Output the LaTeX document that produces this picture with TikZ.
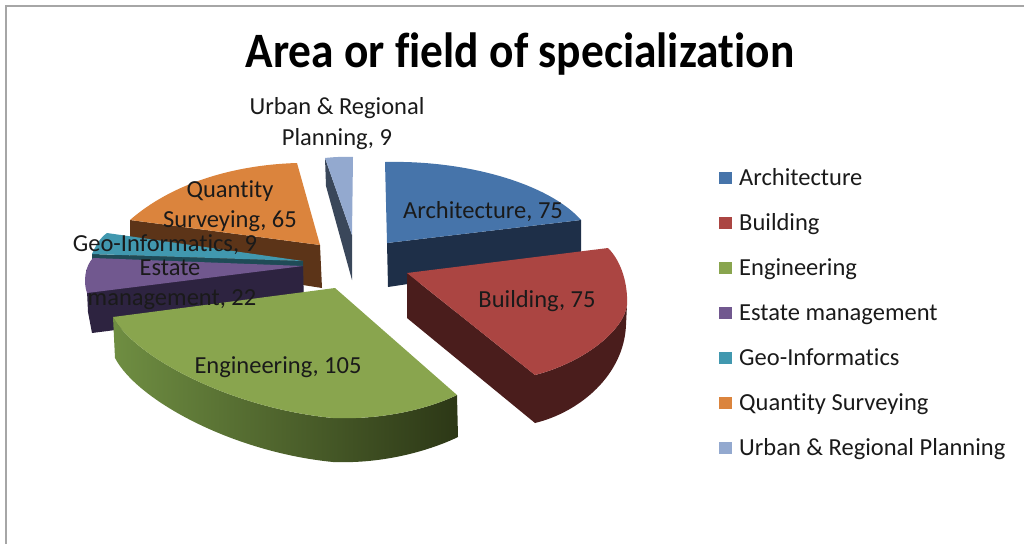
\documentclass[tikz,border=0pt]{standalone}
\usepackage{fontspec}
\setmainfont[Ligatures=NoCommon]{Carlito}
\usepackage{graphicx}
\definecolor{bltp}{HTML}{4674AA}\definecolor{blsd}{HTML}{1E2F48}
\definecolor{rdtp}{HTML}{AB4542}\definecolor{rdsd}{HTML}{4A1D1C}
\definecolor{grtp}{HTML}{89A54E}\definecolor{grsdL}{HTML}{6F8E42}\definecolor{grsdR}{HTML}{2C3716}
\definecolor{putp}{HTML}{71588F}\definecolor{pusd}{HTML}{2D2340}
\definecolor{tltp}{HTML}{4198AF}\definecolor{tlsd}{HTML}{1F4B57}
\definecolor{ortp}{HTML}{DB843D}\definecolor{orsd}{HTML}{5C3418}
\definecolor{urtp}{HTML}{93A9CF}\definecolor{ursd}{HTML}{3A475A}
\definecolor{framec}{HTML}{A6A6A6}
\definecolor{txt}{HTML}{1A1A1A}
\begin{document}
\begin{tikzpicture}[x=1pt,y=-1pt,
  lbl/.style={font=\fontsize{24.5}{29}\selectfont, anchor=base, inner sep=0pt, text=txt},
  leg/.style={font=\fontsize{24.5}{29}\selectfont, anchor=base west, inner sep=0pt, text=txt},
  sq/.style={minimum size=12.5pt, inner sep=0pt, anchor=center, draw=none},
  ttl/.style={font=\bfseries\fontsize{45}{54}\selectfont, anchor=base, inner sep=0pt, text=black}]
\useasboundingbox (0,0) rectangle (1024,544);
% frame
\coordinate (fbl) at (6,544);\coordinate (ftl) at (6,6);\coordinate (ftr) at (1024,6);
\draw[framec, line width=2pt] (fbl) -- (ftl) -- (ftr);
% title
\node[ttl] (title) at (520,67) {\scalebox{1.01}[1.1]{Area or field of specialization}};
% Urban & Regional Planning
\fill[ursd] (325,158) -- (352,235) -- (352,280) -- (326,186) -- cycle;
\fill[urtp] (352,235) -- (325,158) .. controls (334,157) and (344,156.5) .. (353,157) -- cycle;
% Architecture
\fill[blsd] (387,243) -- (581,220) -- (581,258) -- (388,287) -- cycle;
\fill[bltp] (387,243) -- (385,162) .. controls (470,160) and (550,185) .. (581,220) -- cycle;
% Quantity Surveying
\fill[orsd] (130,220) -- (320,245) -- (322,288) -- (130,258) -- cycle;
\fill[ortp] (320,245) -- (130,220) .. controls (170,185) and (230,165) .. (297,163) -- cycle;
% Geo-Informatics
\fill[tlsd] (92,254) -- (303,261) -- (303,300) -- (92,292) -- cycle;
\fill[tltp] (303,261) -- (92,254) .. controls (96,245) and (100,238) .. (107,233) -- cycle;
% Estate management
\fill[pusd] (86,270) -- (303,266) -- (304,306) -- (92,333) -- (88,312) -- cycle;
\fill[putp] (303,266) -- (87,293) .. controls (83,282) and (85,266) .. (93,258) -- cycle;
% Building
\fill[rdsd] (407,273) -- (535,375) -- (535,423) -- (407,318) -- cycle;
\fill[rdsd] (627,305) .. controls (624,330) and (585,362) .. (535,375) -- (535,423) .. controls (580,412) and (624,375) .. (626,325) -- cycle;
\fill[rdtp] (407,273) -- (608,248) .. controls (622,262) and (628,285) .. (627,305) .. controls (624,330) and (585,362) .. (535,375) -- cycle;
% Engineering
\shade[left color=grsdL, right color=grsdR] (113,317) .. controls (135,357) and (230,408) .. (333,418) .. controls (385,420) and (430,408) .. (457,395) -- (458,437) .. controls (431,450) and (385,464) .. (333,462) .. controls (232,452) and (137,400) .. (115,358) -- cycle;
\fill[grtp] (335,288) -- (457,395) .. controls (430,408) and (385,420) .. (333,418) .. controls (230,408) and (135,357) .. (113,317) -- cycle;
% data labels
\node[lbl] (lurb1) at (337,114) {Urban \& Regional};
\node[lbl] (lurb2) at (337,145) {Planning, 9};
\node[lbl] (larc) at (483,218) {Architecture, 75};
\node[lbl] (lqs1) at (230,197) {Quantity};
\node[lbl] (lqs2) at (230,227) {Surveying, 65};
\node[lbl] (lgeo) at (165,251) {Geo-Informatics, 9};
\node[lbl] (lest1) at (170,275) {Estate};
\node[lbl] (lest2) at (172,305) {management, 22};
\node[lbl] (lbld) at (537,307) {Building, 75};
\node[lbl] (leng) at (278,373) {Engineering, 105};
% legend
\node[sq, fill=bltp] (k1) at (725.5,178) {};\node[leg] (t1) at (739,185) {Architecture};
\node[sq, fill=rdtp] (k2) at (725.5,223) {};\node[leg] (t2) at (739,230) {Building};
\node[sq, fill=grtp] (k3) at (725.5,268) {};\node[leg] (t3) at (739,275) {Engineering};
\node[sq, fill=putp] (k4) at (725.5,313) {};\node[leg] (t4) at (739,320) {Estate management};
\node[sq, fill=tltp] (k5) at (725.5,358) {};\node[leg] (t5) at (739,365) {Geo-Informatics};
\node[sq, fill=ortp] (k6) at (725.5,403) {};\node[leg] (t6) at (739,410) {Quantity Surveying};
\node[sq, fill=urtp] (k7) at (725.5,448) {};\node[leg] (t7) at (739,455) {Urban \& Regional Planning};
\end{tikzpicture}
\end{document}
